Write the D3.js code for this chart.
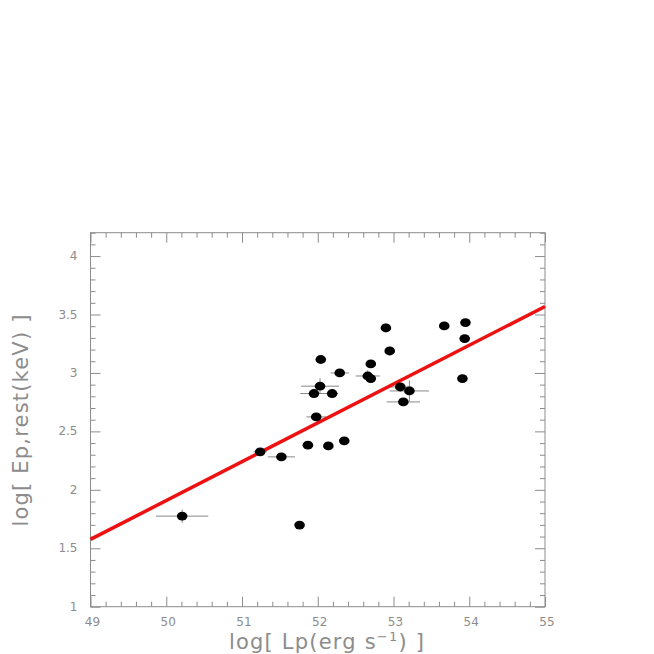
<!DOCTYPE html>
<html>
<head>
<meta charset="utf-8">
<script src="https://cdn.jsdelivr.net/npm/d3@7"></script>
<style>
  body { margin: 0; background: #fff; }
  text { font-family: "DejaVu Sans", sans-serif; fill: #8c8c8c; }
</style>
</head>
<body>
<div id="chart"></div>
<script>
// log Lp (x), log Ep,rest (y) and error half-widths
var logLp  = [50.21, 51.24, 51.52, 51.76, 51.87, 52.14, 52.35, 51.98, 51.95, 52.03, 52.19, 52.04, 52.29,
              52.66, 52.70, 52.70, 52.90, 52.95, 53.09, 53.21, 53.13, 53.67, 53.95, 53.94, 53.91];
var logEp  = [1.775, 2.325, 2.282, 1.698, 2.382, 2.376, 2.419, 2.624, 2.824, 2.887, 2.824, 3.115, 3.0,
              2.974, 2.952, 3.077, 3.385, 3.188, 2.880, 2.846, 2.752, 3.402, 3.431, 3.294, 2.952];
var errLp  = [0.345, 0.09, 0.18, 0.02, 0.02, 0.02, 0.04, 0.13, 0.18, 0.25, 0.08, 0.02, 0.12,
              0.16, 0.02, 0.02, 0.02, 0.02, 0.15, 0.26, 0.22, 0.02, 0.02, 0.02, 0.02];
var errEp  = [0.057, 0.02, 0.02, 0.02, 0.02, 0.02, 0.02, 0.03, 0.04, 0.067, 0.02, 0.02, 0.02,
              0.05, 0.02, 0.02, 0.04, 0.02, 0.02, 0.09, 0.02, 0.02, 0.02, 0.02, 0.02];
// best fit line endpoints
var fitX = [49, 55];
var fitY = [1.576, 3.569];

var xTicks = [49, 50, 51, 52, 53, 54, 55];
var yTicks = [1, 1.5, 2, 2.5, 3, 3.5, 4];

var W = 654, H = 654;
var mLeft = 90.5, mRight = 545, mTop = 232.7, mBottom = 606.7;

var svg = d3.select("#chart").append("svg").attr("width", W).attr("height", H);

var x = d3.scaleLinear().domain([49, 55]).range([mLeft, mRight]);
var y = d3.scaleLinear().domain([1, 4.2]).range([mBottom, mTop]);

var axisCol = "#8c8c8c";

// minor / major tick helpers
function xMinor() { return d3.range(49, 55.001, 0.2).filter(function(v){ return Math.abs(v - Math.round(v)) > 1e-6; }); }
function yMinor() { return d3.range(1, 4.2001, 0.1).filter(function(v){ return Math.abs(v*2 - Math.round(v*2)) > 1e-6; }); }

function styleAxis(g) {
  g.select(".domain").remove();
  g.selectAll("line").attr("stroke", axisCol);
}

// bottom
svg.append("g").attr("transform", "translate(0," + mBottom + ")")
  .call(d3.axisTop(x).tickValues(xMinor()).tickSize(5).tickFormat(""))
  .call(styleAxis);
svg.append("g").attr("transform", "translate(0," + mBottom + ")")
  .call(d3.axisTop(x).tickValues(xTicks).tickSize(10).tickFormat(""))
  .call(styleAxis);
svg.append("g").selectAll("text").data(xTicks).enter().append("text")
  .attr("x", function(d){ return x(d) + 2; }).attr("y", mBottom + 19)
  .attr("text-anchor", "middle").attr("font-size", 12).text(function(d){ return d; });
// top
svg.append("g").attr("transform", "translate(0," + mTop + ")")
  .call(d3.axisBottom(x).tickValues(xMinor()).tickSize(5).tickFormat(""))
  .call(styleAxis);
svg.append("g").attr("transform", "translate(0," + mTop + ")")
  .call(d3.axisBottom(x).tickValues(xTicks).tickSize(10).tickFormat(""))
  .call(styleAxis);
// left
svg.append("g").attr("transform", "translate(" + mLeft + ",0)")
  .call(d3.axisRight(y).tickValues(yMinor()).tickSize(5).tickFormat(""))
  .call(styleAxis);
svg.append("g").attr("transform", "translate(" + mLeft + ",0)")
  .call(d3.axisRight(y).tickValues(yTicks).tickSize(10).tickFormat(""))
  .call(styleAxis);
svg.append("g").selectAll("text").data(yTicks).enter().append("text")
  .attr("x", mLeft - 13).attr("y", function(d){ return y(d) + 4; })
  .attr("text-anchor", "end").attr("font-size", 12).text(function(d){ return d; });
// right
svg.append("g").attr("transform", "translate(" + mRight + ",0)")
  .call(d3.axisLeft(y).tickValues(yMinor()).tickSize(5).tickFormat(""))
  .call(styleAxis);
svg.append("g").attr("transform", "translate(" + mRight + ",0)")
  .call(d3.axisLeft(y).tickValues(yTicks).tickSize(10).tickFormat(""))
  .call(styleAxis);

// frame
svg.append("rect").attr("x", mLeft).attr("y", mTop)
  .attr("width", mRight - mLeft).attr("height", mBottom - mTop)
  .attr("fill", "none").attr("stroke", axisCol).attr("stroke-width", 1);

var pts = logLp.map(function(d, i){ return {x: d, y: logEp[i], ex: errLp[i], ey: errEp[i]}; });

// error bars
var eb = svg.append("g").attr("stroke", "#888").attr("stroke-width", 1);
eb.selectAll(".ex").data(pts).enter().append("line")
  .attr("x1", function(d){ return x(d.x - d.ex); }).attr("x2", function(d){ return x(d.x + d.ex); })
  .attr("y1", function(d){ return y(d.y); }).attr("y2", function(d){ return y(d.y); });
eb.selectAll(".ey").data(pts).enter().append("line")
  .attr("x1", function(d){ return x(d.x); }).attr("x2", function(d){ return x(d.x); })
  .attr("y1", function(d){ return y(d.y - d.ey); }).attr("y2", function(d){ return y(d.y + d.ey); });

// fit line
svg.append("line")
  .attr("x1", x(fitX[0])).attr("y1", y(fitY[0]))
  .attr("x2", x(fitX[1])).attr("y2", y(fitY[1]))
  .attr("stroke", "#ee1111").attr("stroke-width", 3.5);

// points
svg.append("g").selectAll("ellipse").data(pts).enter().append("ellipse")
  .attr("cx", function(d){ return x(d.x); }).attr("cy", function(d){ return y(d.y); })
  .attr("rx", 5.3).attr("ry", 4.4).attr("fill", "#000");

// axis titles
var xt = svg.append("text").attr("x", 327).attr("y", 649).attr("text-anchor", "middle")
  .attr("font-size", 21).attr("letter-spacing", 1.2);
xt.append("tspan").text("log[ Lp(erg s");
xt.append("tspan").attr("dy", -8).attr("font-size", 13).text("−1");
xt.append("tspan").attr("dy", 8).text(") ]");

svg.append("text").attr("transform", "translate(28,420) rotate(-90)")
  .attr("text-anchor", "middle").attr("font-size", 21).attr("letter-spacing", 1.2)
  .text("log[ Ep,rest(keV) ]");
</script>
</body>
</html>
